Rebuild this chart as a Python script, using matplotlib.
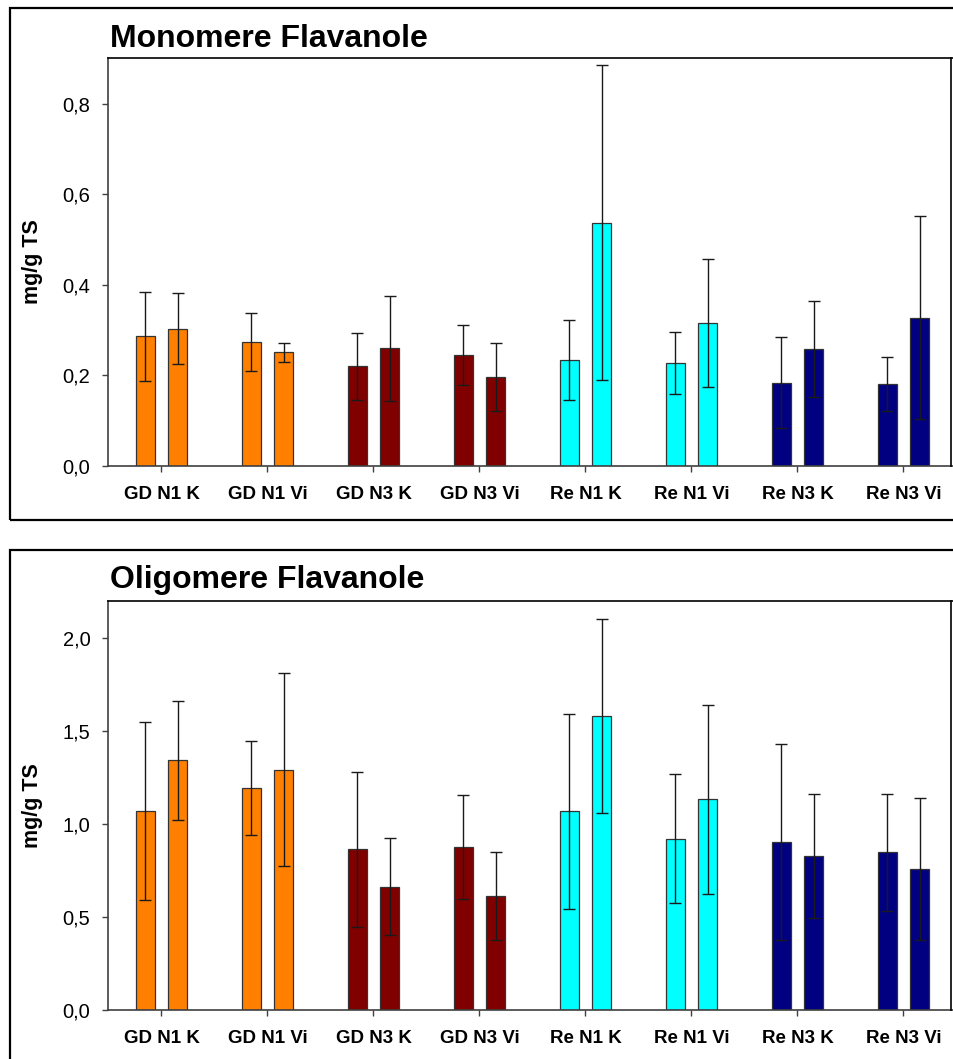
import numpy as np
import matplotlib
matplotlib.use('Agg')
from matplotlib import pyplot as plt
from matplotlib.patches import Rectangle
from matplotlib.lines import Line2D
from matplotlib.ticker import FuncFormatter

plt.rcParams['font.family'] = ['Liberation Sans', 'DejaVu Sans']

# categories and colours
labels = ['GD N1 K', 'GD N1 Vi', 'GD N3 K', 'GD N3 Vi',
          'Re N1 K', 'Re N1 Vi', 'Re N3 K', 'Re N3 Vi']
colors = ['#FF8000', '#FF8000', '#800000', '#800000',
          '#00FFFF', '#00FFFF', '#000080', '#000080']

# Monomere Flavanole (mg/g TS), two bars per group, with sd
mono_1 = [0.286, 0.274, 0.220, 0.245, 0.233, 0.227, 0.184, 0.180]
mono_1_sd = [0.099, 0.064, 0.074, 0.067, 0.088, 0.068, 0.100, 0.060]
mono_2 = [0.303, 0.251, 0.260, 0.196, 0.537, 0.316, 0.258, 0.327]
mono_2_sd = [0.079, 0.021, 0.116, 0.076, 0.348, 0.141, 0.106, 0.224]

# Oligomere Flavanole (mg/g TS)
oligo_1 = [1.071, 1.192, 0.864, 0.877, 1.068, 0.921, 0.903, 0.848]
oligo_1_sd = [0.476, 0.253, 0.415, 0.277, 0.526, 0.347, 0.527, 0.314]
oligo_2 = [1.343, 1.292, 0.663, 0.614, 1.581, 1.133, 0.827, 0.760]
oligo_2_sd = [0.320, 0.517, 0.261, 0.235, 0.519, 0.507, 0.333, 0.381]

W, H = 954, 1059
fig = plt.figure(figsize=(W / 100, H / 100), dpi=100)


def fx(px):
    return px / W


def fy(py):
    return 1 - py / H


def comma(v, pos):
    return f'{v:.1f}'.replace('.', ',')


def panel(top, bottom, s1, s1_sd, s2, s2_sd, ymax, step, title,
          title_base, frame_top, frame_bottom):
    # outer frame
    fig.patches.append(Rectangle((fx(10), fy(frame_bottom)), 1.2,
                                 (frame_bottom - frame_top) / H, fill=False,
                                 ec='black', lw=1.6, transform=fig.transFigure))
    left, right = 108.5, 108.5 + 8 * 106
    ax = fig.add_axes([fx(left), fy(bottom), fx(right - left),
                       (bottom - top) / H])
    x = np.arange(len(labels))
    off, w = 0.151, 0.182
    ax.bar(x - off, s1, w, color=colors, edgecolor='#333333', linewidth=0.9,
           zorder=2)
    ax.bar(x + off, s2, w, color=colors, edgecolor='#333333', linewidth=0.9,
           zorder=2)
    ax.errorbar(x - off, s1, yerr=s1_sd, fmt='none', ecolor='#1a1a1a',
                elinewidth=1, capsize=4.5, capthick=1, zorder=3)
    ax.errorbar(x + off, s2, yerr=s2_sd, fmt='none', ecolor='#1a1a1a',
                elinewidth=1, capsize=4.5, capthick=1, zorder=3)
    ax.set_xlim(-0.5, 7.5)
    ax.set_ylim(0, ymax)
    ax.set_yticks(np.arange(0, ymax - 0.01, step))
    ax.yaxis.set_major_formatter(FuncFormatter(comma))
    ax.set_xticks(x)
    ax.set_xticklabels(labels, fontweight='bold', fontsize=13.5)
    ax.tick_params(axis='y', labelsize=14.5, length=4, width=1,
                   color='#404040', pad=9)
    ax.tick_params(axis='x', length=4.5, width=1, color='#404040', pad=10)
    for side in ['left', 'bottom']:
        ax.spines[side].set_color('#404040')
        ax.spines[side].set_linewidth(1.2)
    ax.spines['top'].set_color('black')
    ax.spines['top'].set_linewidth(1.2)
    ax.spines['right'].set_visible(False)
    ax.set_ylabel('mg/g TS', fontweight='bold', fontsize=15.5)
    ax.yaxis.set_label_coords(fx(43 - left) / fx(right - left), 0.5)
    ax.yaxis.label.set_va('bottom')
    fig.text(fx(110), fy(title_base), title, fontsize=23, fontweight='bold',
             va='baseline', ha='left')
    # separate vertical border line near the right edge
    fig.add_artist(Line2D([fx(951), fx(951)], [fy(bottom), fy(top)],
                          color='black', lw=1.2, transform=fig.transFigure))
    return ax


panel(58.4, 465.8, mono_1, mono_1_sd, mono_2, mono_2_sd, 0.9, 0.2,
      'Monomere Flavanole', 46.6, 8, 520)
panel(600.7, 1010.3, oligo_1, oligo_1_sd, oligo_2, oligo_2_sd, 2.2, 0.5,
      'Oligomere Flavanole', 588.3, 550, 1080)

fig.savefig('out.png', dpi=100)
